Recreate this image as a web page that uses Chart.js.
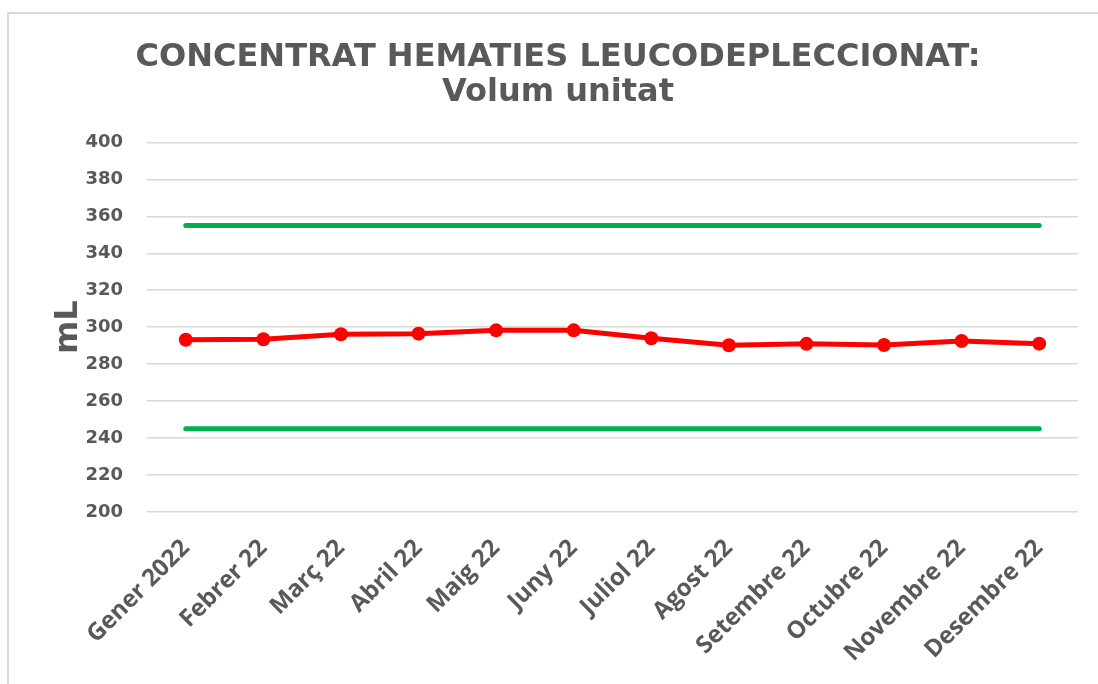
<!DOCTYPE html>
<html lang="ca">
<head>
  <meta charset="UTF-8">
  <script src="https://cdn.jsdelivr.net/npm/chart.js"></script>
  <title>Concentrat hematies</title>
  <style>
    body { margin: 0; background: #fff; }
    .marc {
      position: absolute; left: 7px; top: 12px; width: 1091px; height: 672px;
      border-left: 2px solid #d9d9d9; border-top: 2px solid #d9d9d9;
    }
    .grafic { position: absolute; left: 0; top: 0; width: 1098px; height: 684px; }
  </style>
</head>
<body>
  <div class="marc"></div>
  <div class="grafic"><canvas id="myChart"></canvas></div>

<script>
  // dades llegides del gràfic
  var mesos = ["Gener 2022", "Febrer 22", "Març 22", "Abril 22", "Maig 22", "Juny 22",
    "Juliol 22", "Agost 22", "Setembre 22", "Octubre 22", "Novembre 22", "Desembre 22"]
  var volum = [293.2, 293.5, 296.2, 296.5, 298.3, 298.3, 294.0, 290.2, 291.0, 290.4, 292.5, 291.1]
  var limitSuperior = [355, 355, 355, 355, 355, 355, 355, 355, 355, 355, 355, 355]
  var limitInferior = [245, 245, 245, 245, 245, 245, 245, 245, 245, 245, 245, 245]
  var ticksY = [200, 220, 240, 260, 280, 300, 320, 340, 360, 380, 400]

  var gris = "#595959"

  const ctx = document.getElementById("myChart");
  const myChart = new Chart(ctx, {
    type: "line",
    data: {
      labels: mesos,
      datasets: [{
        label: "Límit superior",
        data: limitSuperior,
        borderColor: "#00b050",
        borderWidth: 5,
        borderCapStyle: "round",
        pointRadius: 0,
        pointHoverRadius: 0,
      }, {
        label: "Límit inferior",
        data: limitInferior,
        borderColor: "#00b050",
        borderWidth: 5,
        borderCapStyle: "round",
        pointRadius: 0,
        pointHoverRadius: 0,
      }, {
        label: "Volum",
        data: volum,
        borderColor: "#ff0000",
        backgroundColor: "#ff0000",
        borderWidth: 5,
        pointRadius: 7,
        pointBorderWidth: 0,
      }],
    },
    options: {
      responsive: true,
      maintainAspectRatio: false,
      animation: false,
      layout: { padding: { left: 38, right: 20, top: 0, bottom: 0 } },
      plugins: {
        legend: { display: false },
        tooltip: { enabled: false },
        title: {
          display: true,
          text: ["CONCENTRAT HEMATIES LEUCODEPLECCIONAT:", "Volum unitat"],
          color: gris,
          font: { family: "DejaVu Sans", size: 32, weight: "bold", lineHeight: 1.1 },
          padding: { top: 40, bottom: 32 },
        },
      },
      scales: {
        x: {
          offset: true,
          grid: { display: false, drawTicks: false },
          border: { display: false },
          ticks: {
            color: gris,
            font: { family: "Open Sans", size: 24, weight: "bold" },
            minRotation: 45,
            maxRotation: 45,
            padding: 22,
            autoSkip: false,
          },
          afterFit: function (scale) { scale.height = 172 },
        },
        y: {
          min: 200,
          max: 400,
          afterBuildTicks: function (scale) {
            scale.ticks = ticksY.map(function (v) { return { value: v } })
          },
          grid: { color: "#d9d9d9", lineWidth: 1.5, drawTicks: false },
          border: { display: false },
          ticks: {
            color: gris,
            font: { family: "DejaVu Sans", size: 18, weight: "bold" },
            padding: 24,
          },
          title: {
            display: true,
            text: "mL",
            color: gris,
            font: { family: "DejaVu Sans", size: 32, weight: "bold" },
            padding: { top: 11, bottom: 0 },
          },
          afterFit: function (scale) { scale.width = 109 },
        },
      },
    },
  });
</script>
</body>
</html>
